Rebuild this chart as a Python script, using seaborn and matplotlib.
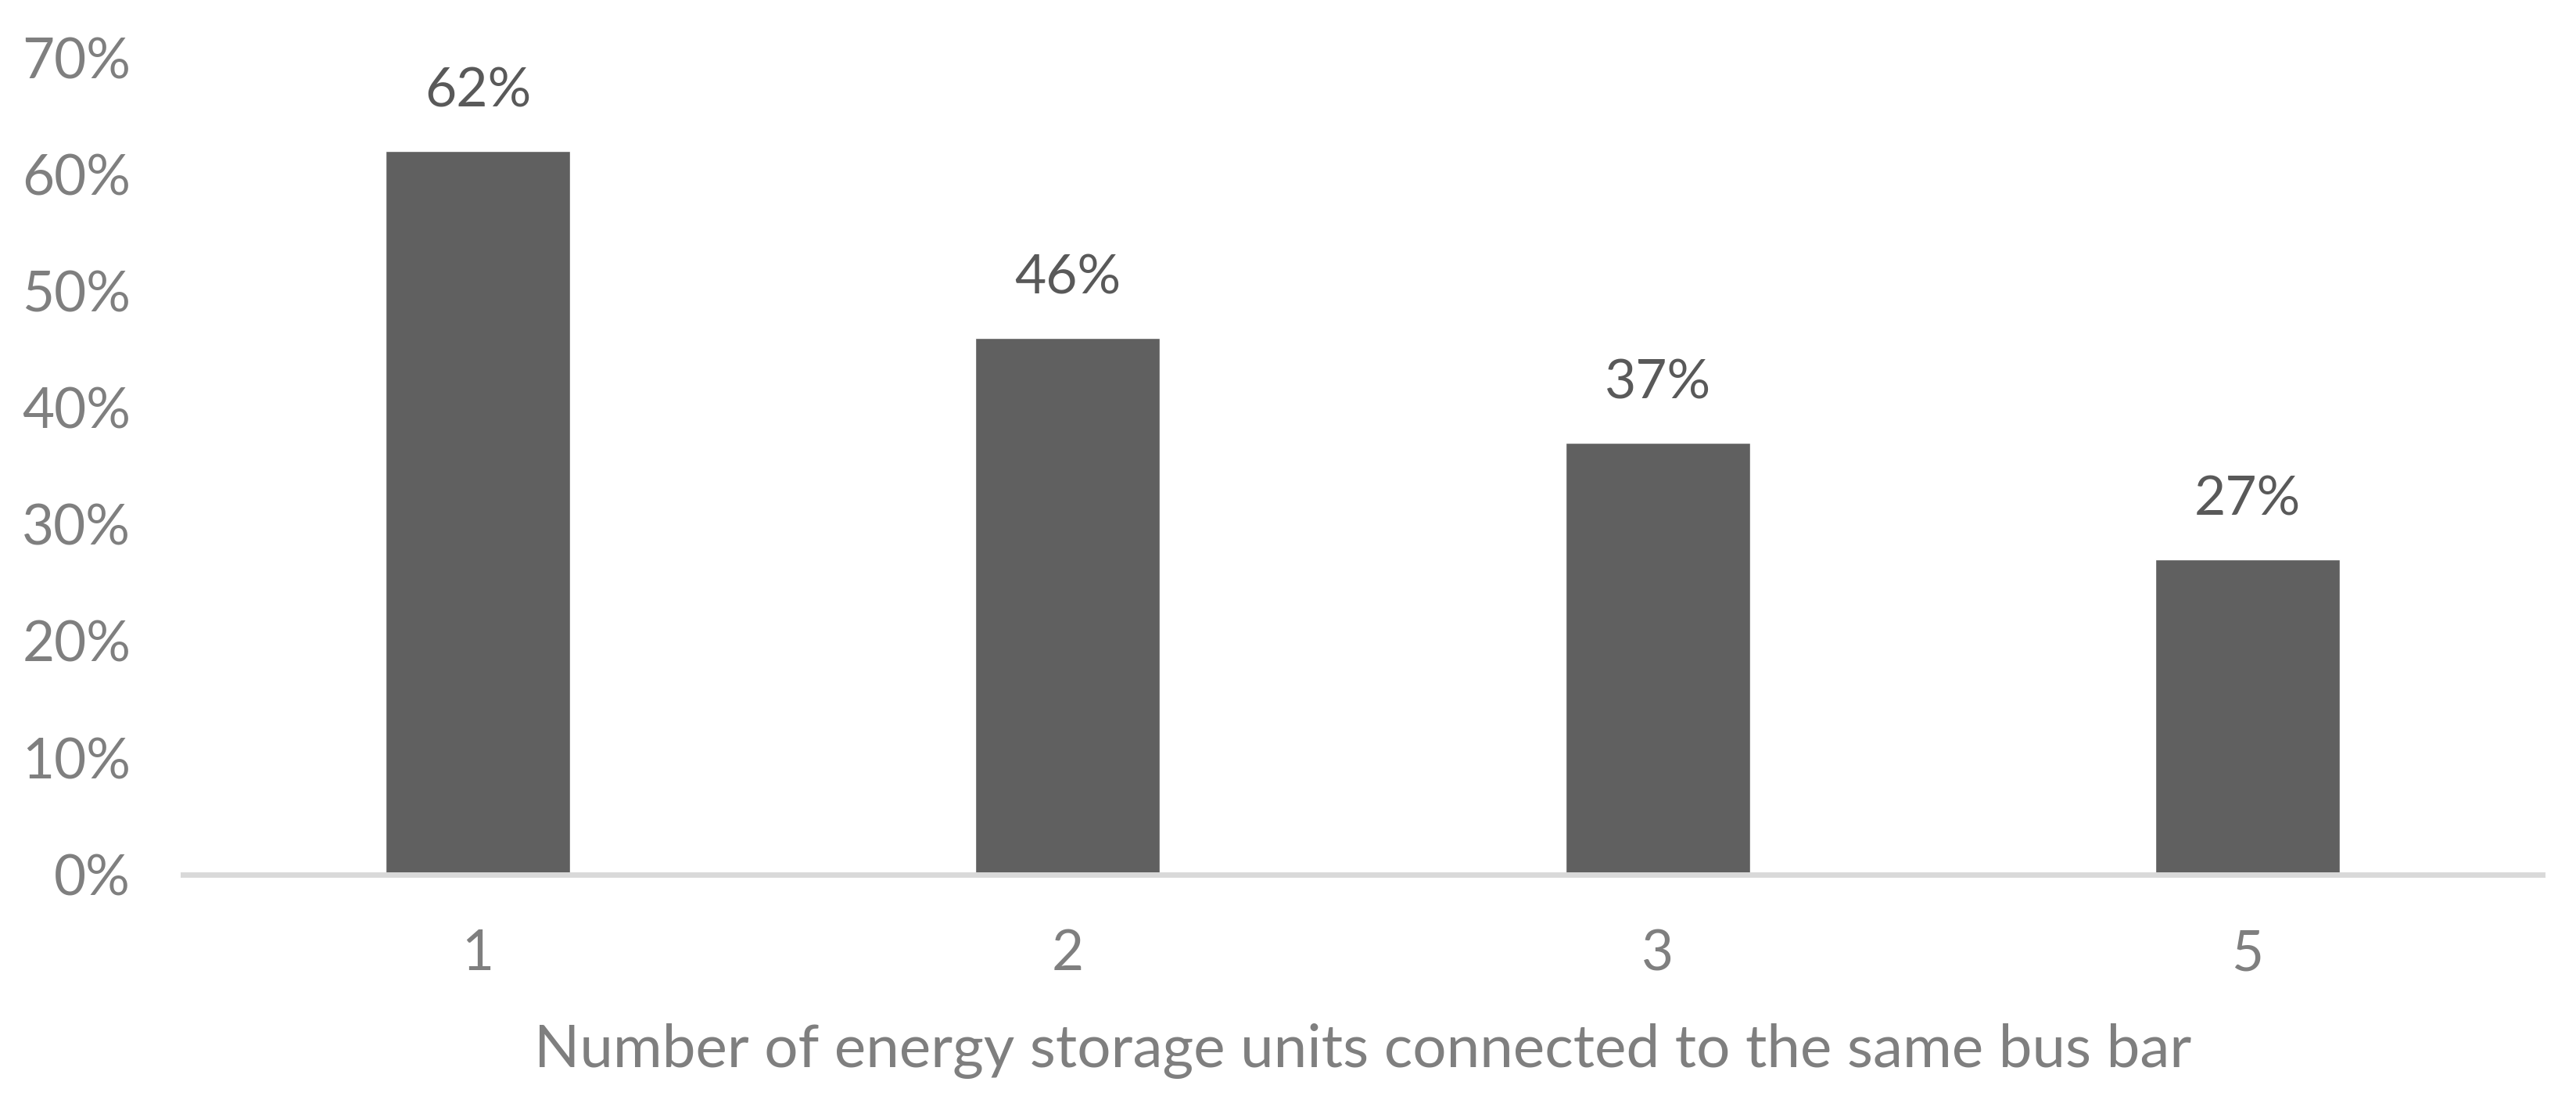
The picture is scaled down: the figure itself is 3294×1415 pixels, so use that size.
import matplotlib
matplotlib.use("Agg")
import matplotlib.pyplot as plt
import seaborn as sns
import pandas as pd
from matplotlib.ticker import PercentFormatter

# datos
unidades = ['1', '2', '3', '5']
porcentaje = [0.62, 0.46, 0.37, 0.27]
etiquetas = ['62%', '46%', '37%', '27%']

df = pd.DataFrame({'unidades': unidades, 'porcentaje': porcentaje})

sns.set_style("white")
plt.rcParams['font.family'] = ['Lato', 'DejaVu Sans']

fig = plt.figure(figsize=(32.94, 14.15), dpi=100)
ax = fig.add_axes([0.071, 0.21, 0.916, 0.738])

sns.barplot(data=df, x='unidades', y='porcentaje', color='#606060',
            width=0.313, saturation=1, ax=ax)

ax.bar_label(ax.containers[0], labels=etiquetas, padding=32,
             fontsize=50, color='#595959')

ax.set_ylim(0, 0.7)
ax.set_xlim(-0.5, 3.5)
ax.set_yticks([0, 0.1, 0.2, 0.3, 0.4, 0.5, 0.6, 0.7])
ax.yaxis.set_major_formatter(PercentFormatter(1.0, decimals=0))
ax.tick_params(axis='y', length=0, pad=48, labelsize=51, labelcolor='#7f7f7f')
ax.tick_params(axis='x', length=0, pad=50, labelsize=51, labelcolor='#7f7f7f')

ax.set_xlabel('Number of energy storage units connected to the same bus bar',
              fontsize=55, color='#7f7f7f', labelpad=40)
ax.set_ylabel('')

sns.despine(ax=ax, left=True)
ax.spines['bottom'].set_color('#d9d9d9')
ax.spines['bottom'].set_linewidth(5)

fig.savefig("out.png", dpi=100)
